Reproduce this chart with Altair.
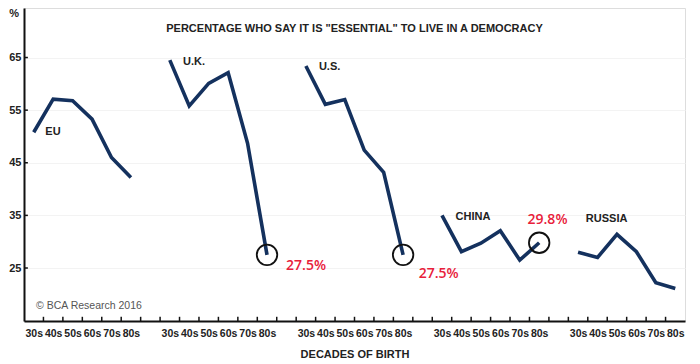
import altair as alt
import pandas as pd

countries = ["EU", "U.K.", "U.S.", "CHINA", "RUSSIA"]
decades = ["30s", "40s", "50s", "60s", "70s", "80s"]
eu = [50.8, 57.1, 56.8, 53.3, 46.0, 42.2]
uk = [64.5, 55.8, 60.1, 62.1, 48.7, 27.5]
us = [63.4, 56.1, 57.0, 47.4, 43.2, 27.5]
china = [35.0, 28.1, 29.7, 32.1, 26.5, 29.8]
russia = [28.0, 27.0, 31.4, 28.1, 22.2, 21.1]
series = [eu, uk, us, china, russia]

# country label positions (slot units, value)
label_x = [1.49, 8.18, 15.17, 22.2, 28.9]
label_y = [50.8, 64.1, 63.2, 34.7, 34.3]
label_align = ["center", "left", "left", "left", "left"]

# highlighted points
hl_country = ["U.K.", "U.S.", "CHINA"]
hl_text = ["27.5%", "27.5%", "29.8%"]
hl_text_x = [13.48, 20.3, 25.9]
hl_text_y = [25.4, 23.9, 34.1]

rows = []
for g, (c, vals) in enumerate(zip(countries, series)):
    for i, (d, v) in enumerate(zip(decades, vals)):
        rows.append({"country": c, "decade": d, "slot": 7 * g + i + 0.5, "value": v})
df = pd.DataFrame(rows)

hl = df[(df["country"].isin(hl_country)) & (df["decade"] == "80s")]

W, H = 661, 313
YDOM = [14.93, 74.41]
XDOM = [0, 34]
xs = alt.Scale(domain=XDOM, nice=False, zero=False)
ys = alt.Scale(domain=YDOM, nice=False, zero=False)

navy = "#14315e"
FONT = "Liberation Sans"

label_vals = [7 * g + i + 0.5 for g in range(5) for i in range(6)]

xaxis = alt.Axis(values=label_vals, title="DECADES OF BIRTH",
                 labelExpr="['30s','40s','50s','60s','70s','80s'][floor(datum.value) % 7]",
                 labelOverlap=False, labelBound=False, labelFlush=False,
                 ticks=False, grid=False, domainColor="#111", domainWidth=2,
                 labelFont=FONT, labelFontWeight="bold", labelFontSize=10.5,
                 labelColor="#222", labelPadding=7,
                 titleFont=FONT, titleFontWeight="bold", titleFontSize=11,
                 titleColor="#222", titlePadding=10)
yaxis = alt.Axis(values=[25, 35, 45, 55, 65], title=None, ticks=False,
                 grid=True, gridColor="#f3f3f3", labelOverlap=False,
                 domainColor="#111", domainWidth=2,
                 labelFont=FONT, labelFontWeight="bold", labelFontSize=11,
                 labelColor="#222", labelPadding=3)


def X(f):
    return alt.X(f, scale=xs, axis=xaxis)


def Y(f):
    return alt.Y(f, scale=ys, axis=yaxis)


lines = alt.Chart(df).mark_line(color=navy, strokeWidth=3.6, strokeJoin="miter").encode(
    x=X("slot:Q"), y=Y("value:Q"), detail="country:N")

# inward ticks
xt = pd.DataFrame({"x": list(range(1, 34)), "y": [YDOM[0]] * 33, "y2": [YDOM[0] + 0.8] * 33})
xticks = alt.Chart(xt).mark_rule(color="#111", strokeWidth=1.5).encode(
    x=X("x:Q"), y=Y("y:Q"), y2="y2:Q")
yt = pd.DataFrame({"y": [25, 35, 45, 55, 65], "x": [0] * 5, "x2": [0.2] * 5})
yticks = alt.Chart(yt).mark_rule(color="#111", strokeWidth=1.5).encode(
    y=Y("y:Q"), x=X("x:Q"), x2="x2:Q")

circles = alt.Chart(hl).mark_point(shape="circle", size=420, filled=False,
                                   color="#111", strokeWidth=1.8, opacity=1).encode(
    x=X("slot:Q"), y=Y("value:Q"))

lab_df = pd.DataFrame({"t": countries, "x": label_x, "y": label_y, "a": label_align})
labs_c = alt.Chart(lab_df[lab_df["a"] == "center"]).mark_text(
    font=FONT, fontWeight="bold", fontSize=11, color="#222", align="center", baseline="middle").encode(
    x=X("x:Q"), y=Y("y:Q"), text="t:N")
labs_l = alt.Chart(lab_df[lab_df["a"] == "left"]).mark_text(
    font=FONT, fontWeight="bold", fontSize=11, color="#222", align="left", baseline="middle").encode(
    x=X("x:Q"), y=Y("y:Q"), text="t:N")

red_df = pd.DataFrame({"t": hl_text, "x": hl_text_x, "y": hl_text_y})
reds = alt.Chart(red_df).mark_text(font="Open Sans", fontSize=14, fontWeight=600, color="#e8203a",
                                   align="left", baseline="middle").encode(
    x=X("x:Q"), y=Y("y:Q"), text="t:N")

misc_df = pd.DataFrame({
    "t": ['PERCENTAGE WHO SAY IT IS "ESSENTIAL" TO LIVE IN A DEMOCRACY'],
    "x": [17.0], "y": [70.4]})
title = alt.Chart(misc_df).mark_text(font=FONT, fontWeight="bold", fontSize=11, color="#222",
                                     align="center", baseline="middle").encode(
    x=X("x:Q"), y=Y("y:Q"), text="t:N")

copy_df = pd.DataFrame({"t": ["\u00a9 BCA Research 2016"], "x": [0.62], "y": [17.8]})
copy = alt.Chart(copy_df).mark_text(font=FONT, fontSize=10.5, color="#555",
                                    align="left", baseline="middle").encode(
    x=X("x:Q"), y=Y("y:Q"), text="t:N")

pct_df = pd.DataFrame({"t": ["%"], "x": [0], "y": [YDOM[1]]})
pct = alt.Chart(pct_df).mark_text(font=FONT, fontWeight="bold", fontSize=11, color="#222",
                                  align="right", baseline="top", dx=-5, dy=0).encode(
    x=X("x:Q"), y=Y("y:Q"), text="t:N")

chart = alt.layer(lines, xticks, yticks, circles, labs_c, labs_l, reds, title, copy, pct).properties(
    width=W, height=H,
    autosize=alt.AutoSizeParams(type="none"),
    padding={"left": 16, "top": 0, "right": 7, "bottom": 43},
).configure_view(stroke="#444", strokeWidth=2).configure_axis(labelOverlap=False).configure(background="white")

chart.save("out.html", embed_options={"renderer": "svg", "actions": False})
